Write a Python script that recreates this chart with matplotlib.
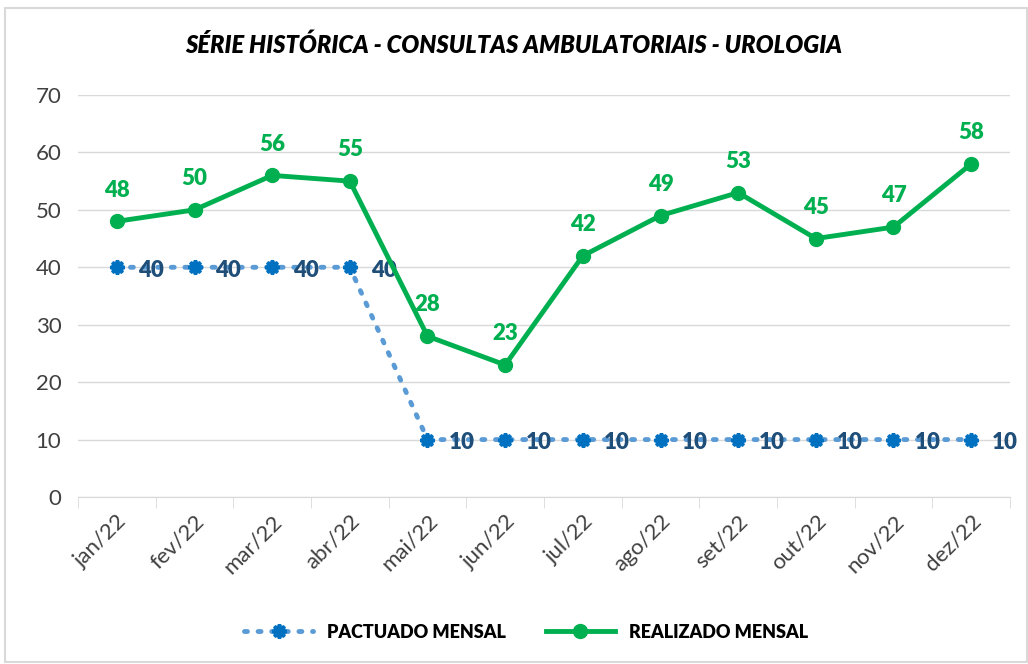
import matplotlib.pyplot as plt
from matplotlib.patches import Rectangle

meses = ['jan/22', 'fev/22', 'mar/22', 'abr/22', 'mai/22', 'jun/22',
         'jul/22', 'ago/22', 'set/22', 'out/22', 'nov/22', 'dez/22']
pactuado = [40, 40, 40, 40, 10, 10, 10, 10, 10, 10, 10, 10]
realizado = [48, 50, 56, 55, 28, 23, 42, 49, 53, 45, 47, 58]

plt.rcParams['font.family'] = ['Lato', 'DejaVu Sans']

fig = plt.figure(figsize=(10.28, 6.64), dpi=100)
ax = fig.add_axes([78/1028, 1 - 497/664, (1010 - 78)/1028, (497 - 95)/664])

# moldura cinza em volta do gráfico
fig.patches.append(Rectangle((5/1028, 2/664), 1 - 6/1028, 1 - 10/664,
                             transform=fig.transFigure, fill=False,
                             edgecolor='#d9d9d9', lw=1.5))

x = list(range(len(meses)))
ax.plot(x, pactuado, linestyle=(0, (0.6, 2.2)), dash_capstyle='round',
        color='#5b9bd5', lw=3.5, marker=(8, 1, 0), markersize=10,
        markerfacecolor='#0070c0', markeredgecolor='#0070c0',
        markeredgewidth=2.5, label='PACTUADO MENSAL', zorder=3)
ax.plot(x, realizado, color='#00b050', lw=3.5, marker='o', markersize=10,
        label='REALIZADO MENSAL', zorder=4)

for i, v in enumerate(pactuado):
    ax.annotate(str(v), (i, v), xytext=(15, -2), textcoords='offset points',
                ha='left', va='center', fontsize=16, fontweight='heavy',
                color='#1f4e79')
for i, v in enumerate(realizado):
    ax.annotate(str(v), (i, v), xytext=(0, 15), textcoords='offset points',
                ha='center', va='bottom', fontsize=16, fontweight='heavy',
                color='#00b050')

ax.set_xlim(-0.5, len(meses) - 0.5)
ax.set_ylim(0, 70)
ax.set_yticks(range(0, 71, 10))
ax.set_xticks(x)
ax.set_xticklabels(meses, rotation=45, ha='right', rotation_mode='anchor')
ax.set_xticks([i - 0.5 for i in range(len(meses) + 1)], minor=True)
ax.tick_params(axis='x', which='major', length=0, labelsize=16, pad=10,
               labelcolor='#404040')
ax.tick_params(axis='x', which='minor', length=8, color='#d9d9d9')
ax.tick_params(axis='y', length=0, labelsize=16, pad=12, labelcolor='#404040')
ax.grid(axis='y', color='#d9d9d9', lw=1)
ax.set_axisbelow(True)
for s in ['top', 'right', 'left']:
    ax.spines[s].set_visible(False)
ax.spines['bottom'].set_color('#d9d9d9')

fig.text(0.5, 1 - 45/664, 'SÉRIE HISTÓRICA - CONSULTAS AMBULATORIAIS - UROLOGIA',
         ha='center', va='center', fontsize=17, fontweight='heavy',
         style='italic')

fig.legend(loc='center', bbox_to_anchor=(0.512, 1 - 632/664), ncol=2,
           frameon=False, handlelength=3.8, columnspacing=2.2,
           prop={'weight': 'heavy', 'size': 13})

fig.savefig('out.png', dpi=100)
